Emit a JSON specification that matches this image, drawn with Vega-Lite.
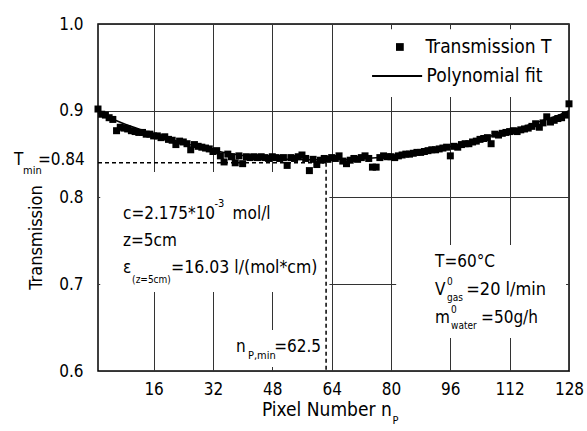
{
  "$schema": "https://vega.github.io/schema/vega-lite/v6.json",
  "width": 471,
  "height": 347,
  "autosize": "none",
  "padding": {"left": 98, "top": 24, "right": 18, "bottom": 60},
  "background": "white",
  "config": {
    "view": {"stroke": "black", "strokeWidth": 1.5},
    "font": "DejaVu Sans Condensed, Liberation Sans Narrow, Roboto",
    "text": {"font": "DejaVu Sans Condensed, Liberation Sans Narrow, Roboto", "fontSize": 17, "align": "left", "baseline": "middle", "color": "black"}
  },
  "datasets": {
    "points": [
      {"n":1,"T":0.902},{"n":2,"T":0.896},{"n":3,"T":0.895},{"n":4,"T":0.892},{"n":5,"T":0.890},{"n":6,"T":0.877},{"n":7,"T":0.881},{"n":8,"T":0.880},
      {"n":9,"T":0.879},{"n":10,"T":0.877},{"n":11,"T":0.876},{"n":12,"T":0.875},{"n":13,"T":0.875},{"n":14,"T":0.873},{"n":15,"T":0.873},{"n":16,"T":0.871},
      {"n":17,"T":0.871},{"n":18,"T":0.869},{"n":19,"T":0.870},{"n":20,"T":0.867},{"n":21,"T":0.866},{"n":22,"T":0.861},{"n":23,"T":0.865},{"n":24,"T":0.864},
      {"n":25,"T":0.862},{"n":26,"T":0.855},{"n":27,"T":0.861},{"n":28,"T":0.859},{"n":29,"T":0.858},{"n":30,"T":0.857},{"n":31,"T":0.856},{"n":32,"T":0.853},
      {"n":33,"T":0.854},{"n":34,"T":0.848},{"n":35,"T":0.841},{"n":36,"T":0.850},{"n":37,"T":0.847},{"n":38,"T":0.840},{"n":39,"T":0.848},{"n":40,"T":0.839},
      {"n":41,"T":0.847},{"n":42,"T":0.846},{"n":43,"T":0.847},{"n":44,"T":0.846},{"n":45,"T":0.847},{"n":46,"T":0.846},{"n":47,"T":0.845},{"n":48,"T":0.847},
      {"n":49,"T":0.846},{"n":50,"T":0.845},{"n":51,"T":0.846},{"n":52,"T":0.837},{"n":53,"T":0.846},{"n":54,"T":0.845},{"n":55,"T":0.847},{"n":56,"T":0.849},
      {"n":57,"T":0.845},{"n":58,"T":0.831},{"n":59,"T":0.844},{"n":60,"T":0.838},{"n":61,"T":0.843},{"n":62,"T":0.845},{"n":63,"T":0.844},{"n":64,"T":0.846},
      {"n":65,"T":0.845},{"n":66,"T":0.848},{"n":67,"T":0.842},{"n":68,"T":0.839},{"n":69,"T":0.843},{"n":70,"T":0.845},{"n":71,"T":0.844},{"n":72,"T":0.846},
      {"n":73,"T":0.848},{"n":74,"T":0.845},{"n":75,"T":0.835},{"n":76,"T":0.835},{"n":77,"T":0.846},{"n":78,"T":0.848},{"n":79,"T":0.847},{"n":80,"T":0.847},
      {"n":81,"T":0.846},{"n":82,"T":0.848},{"n":83,"T":0.849},{"n":84,"T":0.850},{"n":85,"T":0.850},{"n":86,"T":0.851},{"n":87,"T":0.852},{"n":88,"T":0.852},
      {"n":89,"T":0.853},{"n":90,"T":0.854},{"n":91,"T":0.855},{"n":92,"T":0.855},{"n":93,"T":0.856},{"n":94,"T":0.857},{"n":95,"T":0.858},{"n":96,"T":0.848},
      {"n":97,"T":0.859},{"n":98,"T":0.858},{"n":99,"T":0.861},{"n":100,"T":0.862},{"n":101,"T":0.862},{"n":102,"T":0.864},{"n":103,"T":0.865},{"n":104,"T":0.867},
      {"n":105,"T":0.868},{"n":106,"T":0.869},{"n":107,"T":0.862},{"n":108,"T":0.873},{"n":109,"T":0.872},{"n":110,"T":0.874},{"n":111,"T":0.875},{"n":112,"T":0.876},
      {"n":113,"T":0.877},{"n":114,"T":0.876},{"n":115,"T":0.878},{"n":116,"T":0.879},{"n":117,"T":0.880},{"n":118,"T":0.882},{"n":119,"T":0.885},{"n":120,"T":0.881},
      {"n":121,"T":0.886},{"n":122,"T":0.893},{"n":123,"T":0.887},{"n":124,"T":0.889},{"n":125,"T":0.891},{"n":126,"T":0.892},{"n":127,"T":0.895},{"n":128,"T":0.908}
    ],
    "fit": [
      {"n":1,"T":0.897},{"n":4,"T":0.892},{"n":8,"T":0.885},{"n":12,"T":0.879},{"n":16,"T":0.873},{"n":20,"T":0.868},{"n":24,"T":0.863},{"n":28,"T":0.8585},
      {"n":32,"T":0.8545},{"n":36,"T":0.851},{"n":40,"T":0.8485},{"n":44,"T":0.8465},{"n":48,"T":0.845},{"n":52,"T":0.844},{"n":56,"T":0.8437},{"n":60,"T":0.8435},
      {"n":62.5,"T":0.8435},{"n":64,"T":0.8436},{"n":68,"T":0.844},{"n":72,"T":0.8447},{"n":76,"T":0.8458},{"n":80,"T":0.8473},{"n":84,"T":0.8493},{"n":88,"T":0.8518},
      {"n":92,"T":0.855},{"n":96,"T":0.8587},{"n":100,"T":0.863},{"n":104,"T":0.8675},{"n":108,"T":0.872},{"n":112,"T":0.877},{"n":116,"T":0.882},{"n":120,"T":0.8875},
      {"n":124,"T":0.893},{"n":128,"T":0.900}
    ]
  },
  "layer": [
    {
      "data": {"values": [{}]},
      "mark": {"type": "rect", "fill": "white"},
      "encoding": {
        "x": {"datum": 71.6, "type": "quantitative"}, "x2": {"datum": 127.6},
        "y": {"datum": 0.994, "type": "quantitative"}, "y2": {"datum": 0.9158}
      }
    },
    {
      "data": {"values": [{}]},
      "mark": {"type": "rect", "fill": "white"},
      "encoding": {
        "x": {"datum": 1.6, "type": "quantitative"}, "x2": {"datum": 63.4},
        "y": {"datum": 0.8294, "type": "quantitative"}, "y2": {"datum": 0.6911}
      }
    },
    {
      "data": {"values": [{}]},
      "mark": {"type": "rect", "fill": "white"},
      "encoding": {
        "x": {"datum": 37.8, "type": "quantitative"}, "x2": {"datum": 61.4},
        "y": {"datum": 0.6473, "type": "quantitative"}, "y2": {"datum": 0.6046}
      }
    },
    {
      "data": {"values": [{}]},
      "mark": {"type": "rect", "fill": "white"},
      "encoding": {
        "x": {"datum": 81.4, "type": "quantitative"}, "x2": {"datum": 127.2},
        "y": {"datum": 0.7453, "type": "quantitative"}, "y2": {"datum": 0.638}
      }
    },
    {
      "data": {"name": "fit"},
      "mark": {"type": "line", "color": "black", "strokeWidth": 1.5, "interpolate": "monotone"},
      "encoding": {
        "x": {"field": "n", "type": "quantitative"},
        "y": {"field": "T", "type": "quantitative"}
      }
    },
    {
      "data": {"name": "points"},
      "mark": {"type": "point", "shape": "square", "filled": true, "color": "black", "size": 49, "opacity": 1},
      "encoding": {
        "x": {
          "field": "n", "type": "quantitative",
          "scale": {"domain": [1, 128], "nice": false, "zero": false},
          "axis": {
            "values": [16, 32, 48, 64, 80, 96, 112, 128],
            "title": null,
            "grid": true, "gridColor": "#333", "gridWidth": 1,
            "ticks": false, "domain": false,
            "labelFlush": false, "labelFontSize": 17, "labelColor": "black", "labelPadding": 10,
            "labelFont": "DejaVu Sans Condensed, Liberation Sans Narrow, Roboto"
          }
        },
        "y": {
          "field": "T", "type": "quantitative",
          "scale": {"domain": [0.6, 1.0], "nice": false, "zero": false},
          "axis": {
            "values": [0.6, 0.7, 0.8, 0.9, 1.0],
            "format": ".1f",
            "title": "Transmission",
            "titleFont": "DejaVu Sans Condensed, Liberation Sans Narrow, Roboto",
            "titleFontSize": 18, "titleFontWeight": "normal", "titleColor": "black",
            "titleX": -62, "titleY": 213, "titleAngle": -90, "titleAlign": "center", "titleBaseline": "middle",
            "grid": true, "gridColor": "#333", "gridWidth": 1,
            "ticks": false, "domain": false,
            "labelFlush": false, "labelFontSize": 17, "labelColor": "black", "labelPadding": 15,
            "labelFont": "DejaVu Sans Condensed, Liberation Sans Narrow, Roboto"
          }
        }
      }
    },
    {
      "data": {"values": [{}]},
      "mark": {"type": "rule", "color": "black", "strokeWidth": 1.5, "strokeDash": [4, 3]},
      "encoding": {
        "x": {"datum": 1, "type": "quantitative"}, "x2": {"datum": 62.5},
        "y": {"datum": 0.84, "type": "quantitative"}
      }
    },
    {
      "data": {"values": [{}]},
      "mark": {"type": "rule", "color": "black", "strokeWidth": 1.5, "strokeDash": [4, 3]},
      "encoding": {
        "x": {"datum": 62.5, "type": "quantitative"},
        "y": {"datum": 0.84, "type": "quantitative"}, "y2": {"datum": 0.6}
      }
    },
    {
      "data": {"values": [{}]},
      "mark": {"type": "point", "shape": "square", "filled": true, "color": "black", "size": 60, "opacity": 1},
      "encoding": {"x": {"datum": 82.4, "type": "quantitative"}, "y": {"datum": 0.9735, "type": "quantitative"}}
    },
    {
      "data": {"values": [{}]},
      "mark": {"type": "rule", "color": "black", "strokeWidth": 2},
      "encoding": {"x": {"datum": 74.9, "type": "quantitative"}, "x2": {"datum": 88.4}, "y": {"datum": 0.9401, "type": "quantitative"}}
    },
    {
      "data": {"values": [{}]},
      "mark": {"type": "text", "text": "Transmission T", "fontSize": 19},
      "encoding": {"x": {"datum": 89.3, "type": "quantitative"}, "y": {"datum": 0.9735, "type": "quantitative"}}
    },
    {
      "data": {"values": [{}]},
      "mark": {"type": "text", "text": "Polynomial fit", "fontSize": 19},
      "encoding": {"x": {"datum": 89.6, "type": "quantitative"}, "y": {"datum": 0.9401, "type": "quantitative"}}
    },
    {
      "data": {"values": [{}]},
      "mark": {"type": "text", "text": "c=2.175*10"},
      "encoding": {"x": {"datum": 7.74, "type": "quantitative"}, "y": {"datum": 0.781, "type": "quantitative"}}
    },
    {
      "data": {"values": [{}]},
      "mark": {"type": "text", "text": "-3", "fontSize": 11},
      "encoding": {"x": {"datum": 32.4, "type": "quantitative"}, "y": {"datum": 0.7925, "type": "quantitative"}}
    },
    {
      "data": {"values": [{}]},
      "mark": {"type": "text", "text": "mol/l"},
      "encoding": {"x": {"datum": 37.3, "type": "quantitative"}, "y": {"datum": 0.781, "type": "quantitative"}}
    },
    {
      "data": {"values": [{}]},
      "mark": {"type": "text", "text": "z=5cm"},
      "encoding": {"x": {"datum": 7.74, "type": "quantitative"}, "y": {"datum": 0.7499, "type": "quantitative"}}
    },
    {
      "data": {"values": [{}]},
      "mark": {"type": "text", "text": "ε"},
      "encoding": {"x": {"datum": 7.74, "type": "quantitative"}, "y": {"datum": 0.7187, "type": "quantitative"}}
    },
    {
      "data": {"values": [{}]},
      "mark": {"type": "text", "text": "(z=5cm)", "fontSize": 10},
      "encoding": {"x": {"datum": 10.2, "type": "quantitative"}, "y": {"datum": 0.7049, "type": "quantitative"}}
    },
    {
      "data": {"values": [{}]},
      "mark": {"type": "text", "text": "=16.03 l/(mol*cm)", "fontSize": 17.5},
      "encoding": {"x": {"datum": 20.7, "type": "quantitative"}, "y": {"datum": 0.7187, "type": "quantitative"}}
    },
    {
      "data": {"values": [{}]},
      "mark": {"type": "text", "text": "T=60°C"},
      "encoding": {"x": {"datum": 91.9, "type": "quantitative"}, "y": {"datum": 0.7256, "type": "quantitative"}}
    },
    {
      "data": {"values": [{}]},
      "mark": {"type": "text", "text": "V"},
      "encoding": {"x": {"datum": 91.9, "type": "quantitative"}, "y": {"datum": 0.6934, "type": "quantitative"}}
    },
    {
      "data": {"values": [{}]},
      "mark": {"type": "text", "text": "0", "fontSize": 10},
      "encoding": {"x": {"datum": 95.1, "type": "quantitative"}, "y": {"datum": 0.7026, "type": "quantitative"}}
    },
    {
      "data": {"values": [{}]},
      "mark": {"type": "text", "text": "gas", "fontSize": 10},
      "encoding": {"x": {"datum": 95.1, "type": "quantitative"}, "y": {"datum": 0.6842, "type": "quantitative"}}
    },
    {
      "data": {"values": [{}]},
      "mark": {"type": "text", "text": "=20 l/min", "fontSize": 18},
      "encoding": {"x": {"datum": 100.3, "type": "quantitative"}, "y": {"datum": 0.6934, "type": "quantitative"}}
    },
    {
      "data": {"values": [{}]},
      "mark": {"type": "text", "text": "m"},
      "encoding": {"x": {"datum": 91.9, "type": "quantitative"}, "y": {"datum": 0.6611, "type": "quantitative"}}
    },
    {
      "data": {"values": [{}]},
      "mark": {"type": "text", "text": "0", "fontSize": 10},
      "encoding": {"x": {"datum": 96.2, "type": "quantitative"}, "y": {"datum": 0.6703, "type": "quantitative"}}
    },
    {
      "data": {"values": [{}]},
      "mark": {"type": "text", "text": "water", "fontSize": 10},
      "encoding": {"x": {"datum": 96.2, "type": "quantitative"}, "y": {"datum": 0.6519, "type": "quantitative"}}
    },
    {
      "data": {"values": [{}]},
      "mark": {"type": "text", "text": "=50g/h"},
      "encoding": {"x": {"datum": 104.3, "type": "quantitative"}, "y": {"datum": 0.6611, "type": "quantitative"}}
    },
    {
      "data": {"values": [{}]},
      "mark": {"type": "text", "text": "n"},
      "encoding": {"x": {"datum": 38.2, "type": "quantitative"}, "y": {"datum": 0.6277, "type": "quantitative"}}
    },
    {
      "data": {"values": [{}]},
      "mark": {"type": "text", "text": "P,min", "fontSize": 11},
      "encoding": {"x": {"datum": 41.45, "type": "quantitative"}, "y": {"datum": 0.6173, "type": "quantitative"}}
    },
    {
      "data": {"values": [{}]},
      "mark": {"type": "text", "text": "=62.5"},
      "encoding": {"x": {"datum": 48.5, "type": "quantitative"}, "y": {"datum": 0.6277, "type": "quantitative"}}
    },
    {
      "data": {"values": [{}]},
      "mark": {"type": "text", "text": "T"},
      "encoding": {"x": {"datum": -21.65, "type": "quantitative"}, "y": {"datum": 0.8432, "type": "quantitative"}}
    },
    {
      "data": {"values": [{}]},
      "mark": {"type": "text", "text": "min", "fontSize": 11},
      "encoding": {"x": {"datum": -19.2, "type": "quantitative"}, "y": {"datum": 0.8305, "type": "quantitative"}}
    },
    {
      "data": {"values": [{}]},
      "mark": {"type": "text", "text": "=0.84"},
      "encoding": {"x": {"datum": -15.2, "type": "quantitative"}, "y": {"datum": 0.8432, "type": "quantitative"}}
    },
    {
      "data": {"values": [{}]},
      "mark": {"type": "text", "text": "Pixel Number n", "fontSize": 19},
      "encoding": {"x": {"datum": 45.2, "type": "quantitative"}, "y": {"datum": 0.555, "type": "quantitative"}}
    },
    {
      "data": {"values": [{}]},
      "mark": {"type": "text", "text": "P", "fontSize": 11},
      "encoding": {"x": {"datum": 80.4, "type": "quantitative"}, "y": {"datum": 0.5424, "type": "quantitative"}}
    }
  ]
}
